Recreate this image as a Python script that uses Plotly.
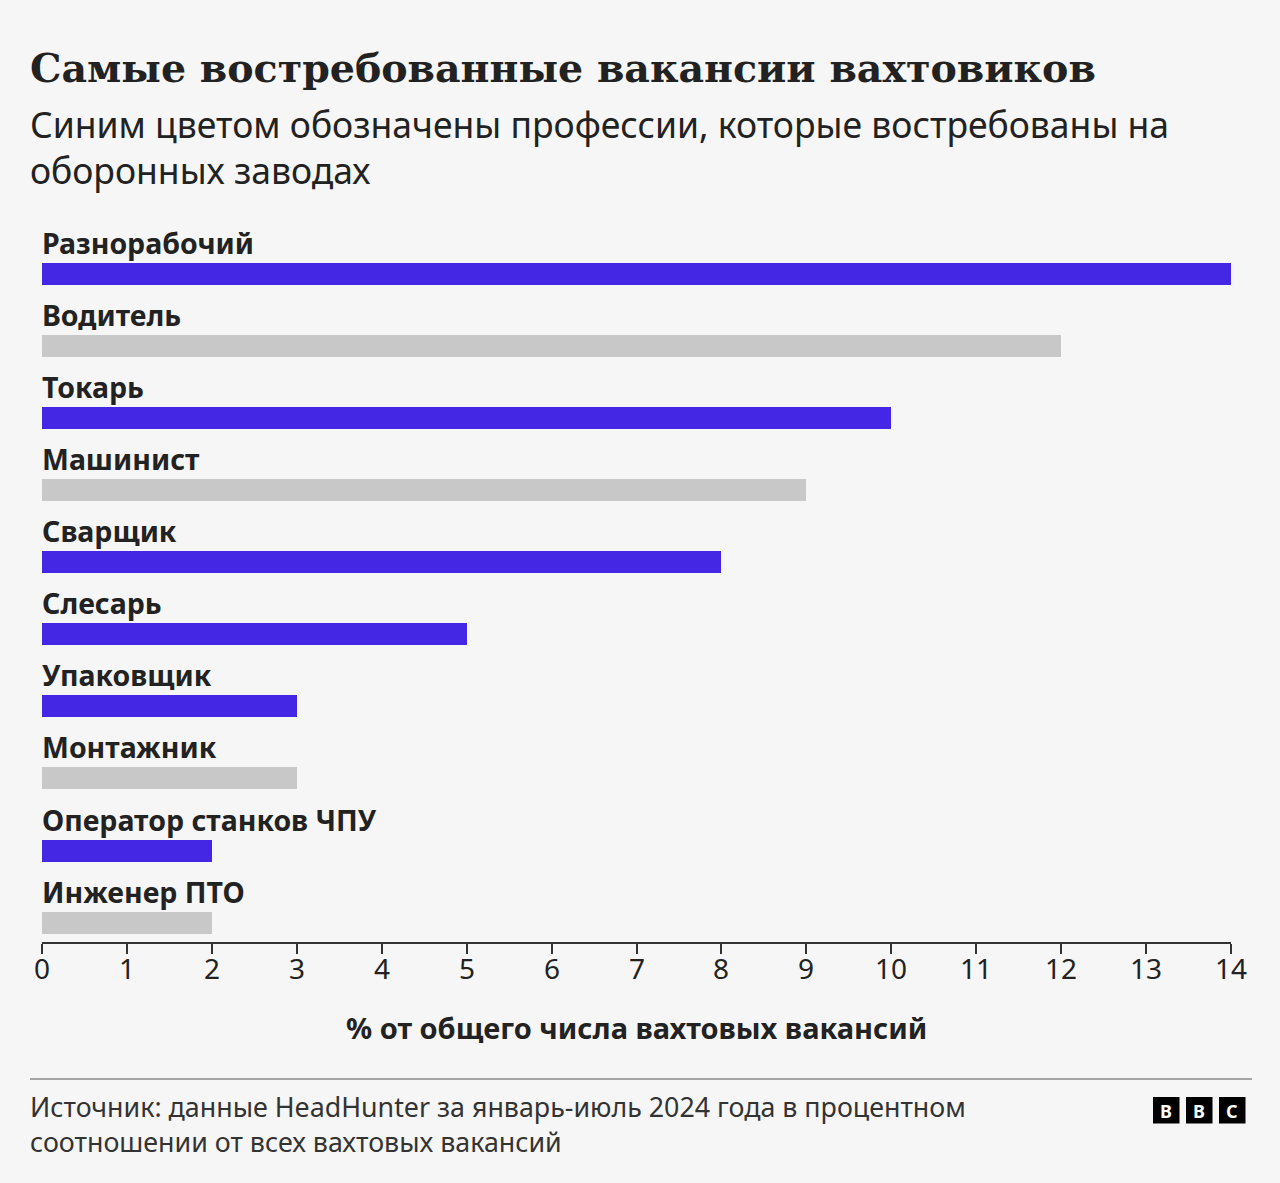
import plotly.graph_objects as go

categories = ["Разнорабочий", "Водитель", "Токарь", "Машинист", "Сварщик",
              "Слесарь", "Упаковщик", "Монтажник", "Оператор станков ЧПУ", "Инженер ПТО"]
values = [14, 12, 10, 9, 8, 5, 3, 3, 2, 2]
defense = [True, False, True, False, True, True, True, False, True, False]
tick_vals = list(range(0, 15))

title_text = "Самые востребованные вакансии вахтовиков"
subtitle_lines = ["Синим цветом обозначены профессии, которые востребованы на", "оборонных заводах"]
xaxis_title = "% от общего числа вахтовых вакансий"
source_lines = ["Источник: данные HeadHunter за январь-июль 2024 года в процентном",
                "соотношении от всех вахтовых вакансий"]

BLUE = "#4427E4"
GRAY = "#C8C8C8"
BG = "#F6F6F6"
TEXT = "#222222"

W, H = 1280, 1183
L, R, T, B = 42, 49, 220, 241
PW, PH = W - L - R, H - T - B

def px(x):
    return (x - L) / PW

def py(y):
    return (H - B - y) / PH

pos = list(range(len(categories)))
colors = [BLUE if d else GRAY for d in defense]

fig = go.Figure()
fig.add_trace(go.Bar(
    x=values, y=pos, orientation="h",
    marker=dict(color=colors, line=dict(width=0)),
    width=0.305, hoverinfo="skip", showlegend=False,
))

annotations = []
for i, c in enumerate(categories):
    annotations.append(dict(
        x=0, y=i, xref="x", yref="y", text=f"<b>{c}</b>", showarrow=False,
        xanchor="left", yanchor="bottom", yshift=10, xshift=-2,
        font=dict(family="Noto Sans", size=28.5, color=TEXT),
    ))

for v in tick_vals:
    annotations.append(dict(
        x=v, y=py(968), xref="x", yref="paper", text=str(v), showarrow=False,
        xanchor="center", yanchor="middle",
        font=dict(family="Noto Sans", size=28, color=TEXT),
    ))

annotations.append(dict(x=px(28), y=py(68), xref="paper", yref="paper", xanchor="left", yanchor="middle",
                        text=f"<b>{title_text}</b>", showarrow=False,
                        font=dict(family="DejaVu Serif", size=39.5, color=TEXT)))
annotations.append(dict(x=px(28), y=py(147.5), xref="paper", yref="paper", xanchor="left",
                        yanchor="middle", text="<br>".join(subtitle_lines), showarrow=False,
                        align="left", font=dict(family="Noto Sans", size=35.5, color=TEXT)))
annotations.append(dict(x=0.5, y=py(1027), xref="paper", yref="paper", xanchor="center", yanchor="middle",
                        text=f"<b>{xaxis_title}</b>", showarrow=False,
                        font=dict(family="Noto Sans", size=29, color=TEXT)))
annotations.append(dict(x=px(28), y=py(1123.5), xref="paper", yref="paper", xanchor="left",
                        yanchor="middle", text="<br>".join(source_lines), showarrow=False,
                        align="left", font=dict(family="Noto Sans", size=26.8, color="#333333")))

shapes = [dict(type="line", xref="paper", yref="paper", x0=px(30), x1=px(1252),
               y0=py(1079), y1=py(1079), line=dict(color="#8a8a8a", width=1.5))]
for j, letter in enumerate("BBC"):
    x0 = 1153 + j * 33
    shapes.append(dict(type="rect", xref="paper", yref="paper",
                       x0=px(x0), x1=px(x0 + 26.5), y0=py(1123.5), y1=py(1097),
                       fillcolor="#000000", line=dict(width=0)))
    annotations.append(dict(x=px(x0 + 13.25), y=py(1110.5), xref="paper", yref="paper",
                            xanchor="center", yanchor="middle", text=f"<b>{letter}</b>",
                            showarrow=False, font=dict(family="Noto Sans", size=18, color="#FFFFFF")))

fig.update_layout(
    width=W, height=H, margin=dict(l=L, r=R, t=T, b=B, pad=0),
    paper_bgcolor=BG, plot_bgcolor=BG,
    annotations=annotations, shapes=shapes, bargap=0,
    xaxis=dict(range=[0, 14], tickvals=tick_vals, showticklabels=False,
               showgrid=False, zeroline=False, showline=True, linecolor="#333333", linewidth=2,
               ticks="outside", ticklen=10, tickwidth=2, tickcolor="#333333", fixedrange=True),
    yaxis=dict(range=[9.268, -0.742], showgrid=False, zeroline=False, showticklabels=False,
               showline=False, fixedrange=True),
)

fig.write_html("out.html")
